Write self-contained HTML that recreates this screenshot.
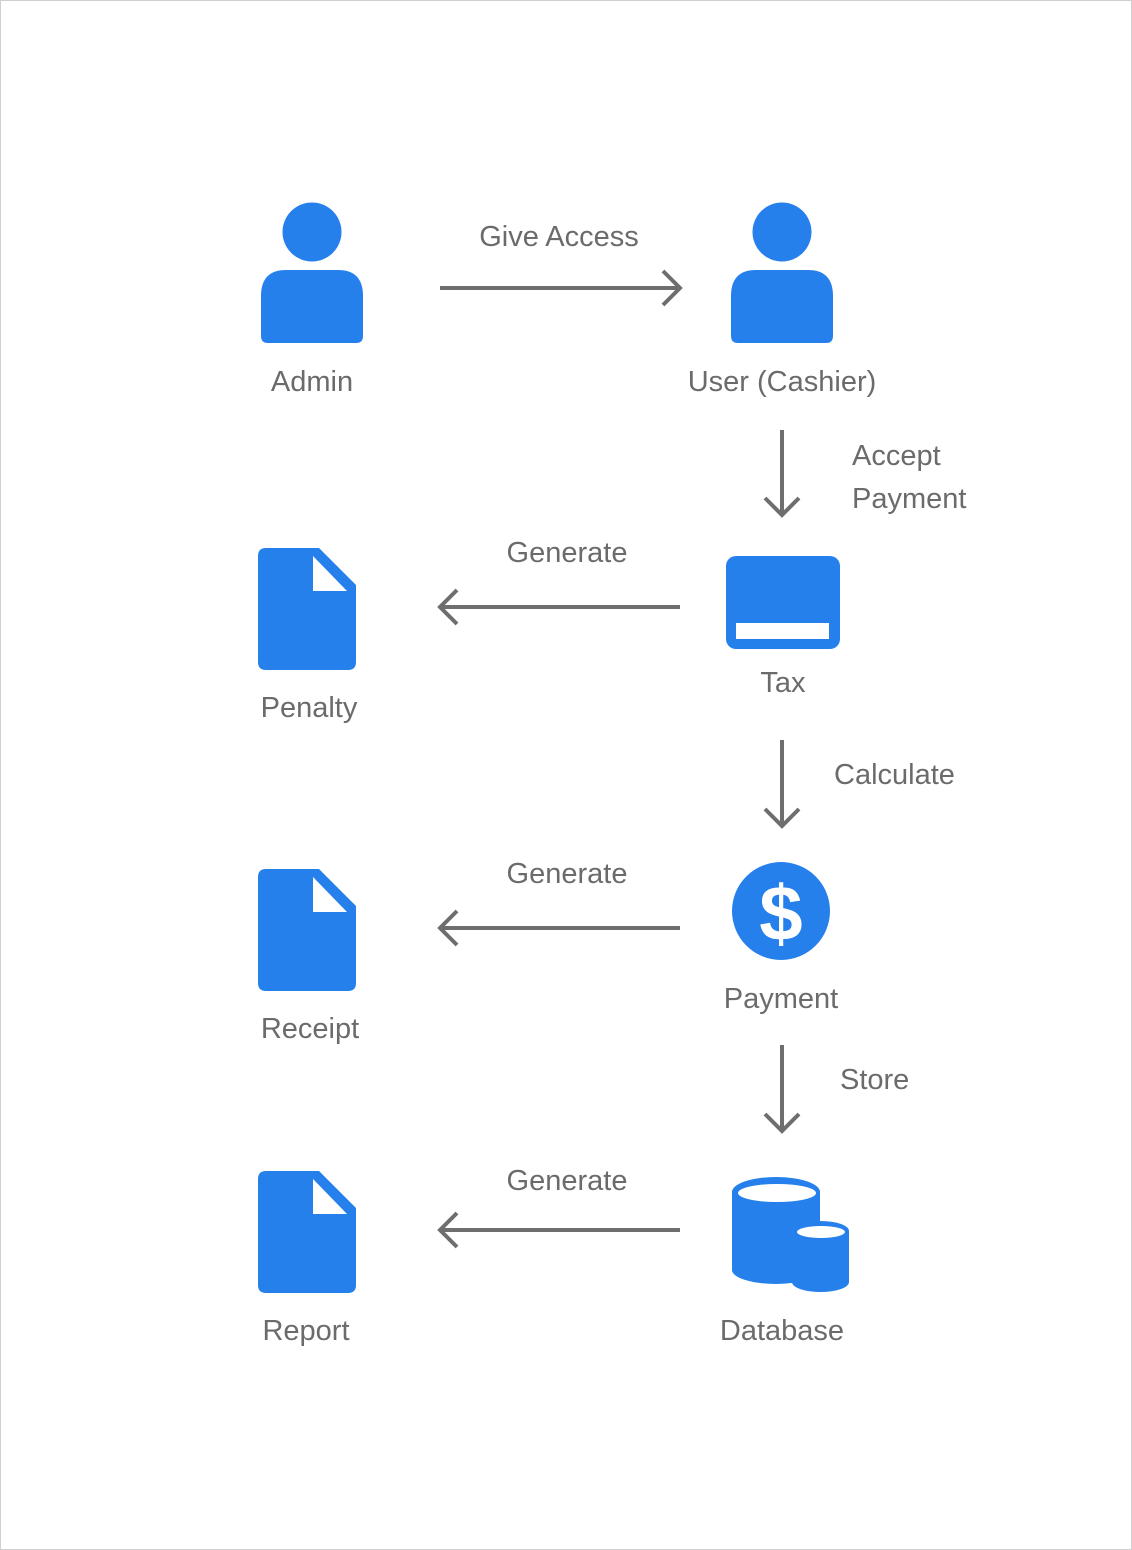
<!DOCTYPE html>
<html><head><meta charset="utf-8"><style>
html,body{margin:0;padding:0;background:#fff;}
svg{display:block;}
text{font-family:"Liberation Sans",sans-serif;font-size:29px;fill:#6b6b6b;}
</style></head><body>
<svg width="1132" height="1550" viewBox="0 0 1132 1550" xmlns="http://www.w3.org/2000/svg">
<rect x="0.5" y="0.5" width="1131" height="1549" fill="#fff" stroke="#d0d0d0"/>
<defs>
<g id="person">
<circle cx="0" cy="-38" r="29.5" fill="#2680EB"/>
<path d="M-51,26 Q-51,0 -26,0 L26,0 Q51,0 51,26 L51,66 Q51,73 44,73 L-44,73 Q-51,73 -51,66 Z" fill="#2680EB"/>
</g>
<g id="doc">
<path d="M8,0 L61,0 L98,37 L98,114 Q98,122 90,122 L8,122 Q0,122 0,114 L0,8 Q0,0 8,0 Z" fill="#2680EB"/>
<path d="M55,8 L55,43 L89,43 Z" fill="#fff"/>
</g>
</defs>
<g stroke="#6e6e6e" stroke-width="4" fill="none">
<path d="M440,288 L680,288 M663,271 L680,288 L663,305"/>
<path d="M782,430 L782,515 M765,498 L782,515 L799,498"/>
<path d="M782,740 L782,826 M765,809 L782,826 L799,809"/>
<path d="M782,1045 L782,1131 M765,1114 L782,1131 L799,1114"/>
<path d="M680,607 L440,607 M457,590 L440,607 L457,624"/>
<path d="M680,928 L440,928 M457,911 L440,928 L457,945"/>
<path d="M680,1230 L440,1230 M457,1213 L440,1230 L457,1247"/>
</g>
<use href="#person" x="312" y="270"/>
<use href="#person" x="782" y="270"/>
<use href="#doc" x="258" y="548"/>
<use href="#doc" x="258" y="869"/>
<use href="#doc" x="258" y="1171"/>
<rect x="726" y="556" width="114" height="93" rx="10" fill="#2680EB"/>
<rect x="736" y="623" width="93" height="16" fill="#fff"/>
<circle cx="781" cy="911" r="49" fill="#2680EB"/>
<text x="781" y="940" text-anchor="middle" style="font-size:78px;font-weight:bold;fill:#fff">$</text>
<g fill="#2680EB">
<path d="M732,1192 L732,1270 A44,14 0 0 0 820,1270 L820,1192 Z"/>
<ellipse cx="776" cy="1192" rx="44" ry="15"/>
</g>
<ellipse cx="777" cy="1193" rx="39" ry="9" fill="#fff"/>
<g fill="#2680EB">
<path d="M792,1231 L792,1282 A28.5,10 0 0 0 849,1282 L849,1231 Z"/>
<ellipse cx="820.5" cy="1231" rx="28.5" ry="10"/>
</g>
<ellipse cx="821" cy="1232" rx="24" ry="6" fill="#fff"/>
<text x="312" y="391" text-anchor="middle">Admin</text>
<text x="782" y="391" text-anchor="middle">User (Cashier)</text>
<text x="559" y="246" text-anchor="middle">Give Access</text>
<text x="852" y="465">Accept</text>
<text x="852" y="508">Payment</text>
<text x="567" y="562" text-anchor="middle">Generate</text>
<text x="309" y="717" text-anchor="middle">Penalty</text>
<text x="783" y="692" text-anchor="middle">Tax</text>
<text x="834" y="784">Calculate</text>
<text x="567" y="883" text-anchor="middle">Generate</text>
<text x="310" y="1038" text-anchor="middle">Receipt</text>
<text x="781" y="1008" text-anchor="middle">Payment</text>
<text x="840" y="1089">Store</text>
<text x="567" y="1190" text-anchor="middle">Generate</text>
<text x="306" y="1340" text-anchor="middle">Report</text>
<text x="782" y="1340" text-anchor="middle">Database</text>
</svg>
</body></html>
